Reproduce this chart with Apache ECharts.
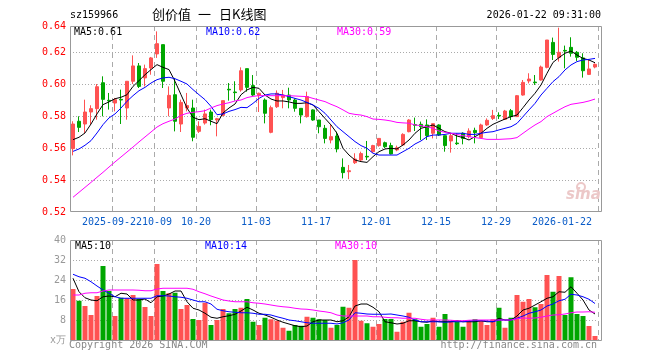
<!DOCTYPE html>
<html><head><meta charset="utf-8">
<script src="https://cdn.jsdelivr.net/npm/echarts@6/dist/echarts.min.js"></script>
<style>html,body{margin:0;padding:0;background:#fff}#c{width:660px;height:360px}</style>
</head><body><div id="c"></div>
<script>
// ---- data ----
const categories = [
'2025-09-11','2025-09-12','2025-09-15','2025-09-16','2025-09-17','2025-09-18','2025-09-19','2025-09-22','2025-09-23','2025-09-24',
'2025-09-25','2025-09-26','2025-09-29','2025-09-30','2025-10-09','2025-10-10','2025-10-13','2025-10-14','2025-10-15','2025-10-16',
'2025-10-17','2025-10-20','2025-10-21','2025-10-22','2025-10-23','2025-10-24','2025-10-27','2025-10-28','2025-10-29','2025-10-30',
'2025-10-31','2025-11-03','2025-11-04','2025-11-05','2025-11-06','2025-11-07','2025-11-10','2025-11-11','2025-11-12','2025-11-13',
'2025-11-14','2025-11-17','2025-11-18','2025-11-19','2025-11-20','2025-11-21','2025-11-24','2025-11-25','2025-11-26','2025-11-27',
'2025-11-28','2025-12-01','2025-12-02','2025-12-03','2025-12-04','2025-12-05','2025-12-08','2025-12-09','2025-12-10','2025-12-11',
'2025-12-12','2025-12-15','2025-12-16','2025-12-17','2025-12-18','2025-12-19','2025-12-22','2025-12-23','2025-12-24','2025-12-25',
'2025-12-26','2025-12-29','2025-12-30','2025-12-31','2026-01-05','2026-01-06','2026-01-07','2026-01-08','2026-01-09','2026-01-12',
'2026-01-13','2026-01-14','2026-01-15','2026-01-16','2026-01-19','2026-01-20','2026-01-21','2026-01-22'];

const tickLabels = {
  '2025-09-22':'2025-09-22','2025-10-09':'10-09','2025-10-20':'10-20','2025-11-03':'11-03',
  '2025-11-17':'11-17','2025-12-01':'12-01','2025-12-15':'12-15','2025-12-29':'12-29','2026-01-22':'2026-01-22'
};

// [open, close, low, high]
const kline = [
[0.5596,0.5750,0.5554,0.5767],[0.5767,0.5729,0.5700,0.5798],[0.5750,0.5825,0.5694,0.5902],[0.5825,0.5846,0.5746,0.5867],
[0.5846,0.5983,0.5777,0.6000],[0.6008,0.5904,0.5798,0.6048],[0.5898,0.5894,0.5840,0.5944],[0.5881,0.5902,0.5829,0.5913],
[0.5904,0.5900,0.5750,0.5965],[0.5850,0.6017,0.5777,0.6017],[0.6017,0.6113,0.6000,0.6179],[0.6113,0.5985,0.5975,0.6131],
[0.6038,0.6096,0.5985,0.6121],[0.6100,0.6163,0.6058,0.6169],[0.6188,0.6252,0.6163,0.6329],[0.6246,0.6017,0.5975,0.6246],
[0.5850,0.5929,0.5798,0.5985],[0.5933,0.5767,0.5704,0.6038],[0.5750,0.5885,0.5700,0.5902],[0.5850,0.5865,0.5829,0.5944],
[0.5850,0.5667,0.5642,0.5902],[0.5704,0.5735,0.5694,0.5767],[0.5756,0.5813,0.5746,0.5840],[0.5825,0.5777,0.5742,0.5840],
[0.5775,0.5783,0.5673,0.5788],[0.5804,0.5896,0.5798,0.5896],[0.5967,0.5963,0.5896,0.6006],[0.5950,0.5946,0.5896,0.6017],
[0.5963,0.6083,0.5952,0.6104],[0.6096,0.5979,0.5952,0.6096],[0.5990,0.5931,0.5925,0.6056],[0.5929,0.5942,0.5825,0.5946],
[0.5900,0.5817,0.5754,0.5910],[0.5698,0.5852,0.5692,0.5865],[0.5858,0.5942,0.5850,0.5960],[0.5915,0.5931,0.5848,0.5963],
[0.5931,0.5900,0.5848,0.5977],[0.5900,0.5848,0.5827,0.5910],[0.5848,0.5806,0.5754,0.5848],[0.5796,0.5921,0.5790,0.5952],
[0.5838,0.5775,0.5770,0.5842],[0.5775,0.5733,0.5692,0.5775],[0.5723,0.5660,0.5629,0.5744],[0.5650,0.5671,0.5629,0.5744],
[0.5675,0.5594,0.5573,0.5702],[0.5479,0.5446,0.5410,0.5535],[0.5452,0.5458,0.5405,0.5494],[0.5508,0.5531,0.5500,0.5567],
[0.5525,0.5565,0.5515,0.5577],[0.5548,0.5544,0.5525,0.5644],[0.5577,0.5615,0.5570,0.5620],[0.5615,0.5660,0.5608,0.5660],
[0.5633,0.5608,0.5600,0.5640],[0.5615,0.5563,0.5560,0.5633],[0.5588,0.5602,0.5580,0.5615],[0.5619,0.5685,0.5615,0.5692],
[0.5702,0.5775,0.5698,0.5780],[0.5746,0.5742,0.5706,0.5790],[0.5748,0.5733,0.5650,0.5765],[0.5744,0.5677,0.5650,0.5779],
[0.5692,0.5752,0.5660,0.5752],[0.5744,0.5681,0.5675,0.5748],[0.5677,0.5615,0.5577,0.5677],[0.5644,0.5677,0.5571,0.5692],
[0.5631,0.5627,0.5619,0.5692],[0.5692,0.5660,0.5623,0.5698],[0.5671,0.5706,0.5660,0.5723],[0.5710,0.5696,0.5629,0.5727],
[0.5665,0.5744,0.5660,0.5752],[0.5744,0.5773,0.5738,0.5785],[0.5785,0.5802,0.5775,0.5838],[0.5804,0.5800,0.5781,0.5823],
[0.5779,0.5831,0.5775,0.5838],[0.5833,0.5796,0.5775,0.5844],[0.5796,0.5927,0.5796,0.5931],[0.5931,0.6010,0.5927,0.6025],
[0.6019,0.6031,0.6004,0.6067],[0.6012,0.6008,0.5994,0.6056],[0.6025,0.6106,0.6021,0.6115],[0.6104,0.6275,0.6098,0.6275],
[0.6260,0.6185,0.6150,0.6290],[0.6165,0.6198,0.6140,0.6352],[0.6210,0.6206,0.6098,0.6240],[0.6229,0.6192,0.6171,0.6292],
[0.6198,0.6167,0.6144,0.6206],[0.6163,0.6083,0.6040,0.6192],[0.6060,0.6094,0.6056,0.6150],[0.6106,0.6123,0.6098,0.6129]];

const ma5 = [0.5652,0.5667,0.5694,0.5750,0.5813,0.5871,0.5888,0.5908,0.5917,0.5933,
0.5985,0.6021,0.6058,0.6090,0.6121,0.6104,0.6090,0.6017,0.5933,0.5850,
0.5792,0.5777,0.5783,0.5767,0.5752,0.5819,0.5850,0.5875,0.5933,0.5963,
0.5979,0.5973,0.5931,0.5906,0.5894,0.5894,0.5888,0.5879,0.5879,0.5883,
0.5869,0.5827,0.5785,0.5744,0.5692,0.5598,0.5556,0.5525,0.5515,0.5510,
0.5546,0.5577,0.5594,0.5598,0.5594,0.5619,0.5650,0.5692,0.5723,0.5733,
0.5744,0.5723,0.5702,0.5692,0.5675,0.5665,0.5650,0.5671,0.5692,0.5723,
0.5748,0.5765,0.5781,0.5796,0.5806,0.5852,0.5900,0.5942,0.5994,0.6067,
0.6135,0.6165,0.6192,0.6206,0.6181,0.6160,0.6150,0.6133];

const ma10 = [0.5579,0.5594,0.5617,0.5646,0.5694,0.5746,0.5788,0.5813,0.5850,0.5892,
0.5927,0.5958,0.5979,0.6006,0.6027,0.6038,0.6042,0.6033,0.6017,0.6000,
0.5965,0.5933,0.5902,0.5860,0.5808,0.5813,0.5829,0.5840,0.5854,0.5852,
0.5879,0.5910,0.5931,0.5938,0.5938,0.5931,0.5921,0.5910,0.5900,0.5885,
0.5869,0.5848,0.5817,0.5775,0.5733,0.5702,0.5671,0.5640,0.5615,0.5598,
0.5567,0.5556,0.5556,0.5556,0.5556,0.5577,0.5598,0.5625,0.5644,0.5671,
0.5681,0.5681,0.5685,0.5692,0.5692,0.5692,0.5685,0.5685,0.5692,0.5698,
0.5702,0.5713,0.5723,0.5733,0.5754,0.5796,0.5838,0.5879,0.5931,0.5973,
0.6015,0.6046,0.6088,0.6119,0.6140,0.6150,0.6154,0.6160];

const ma30 = [0.5292,0.5323,0.5354,0.5385,0.5417,0.5448,0.5481,0.5513,0.5544,0.5575,
0.5606,0.5638,0.5669,0.5700,0.5731,0.5752,0.5767,0.5781,0.5804,0.5817,
0.5823,0.5827,0.5833,0.5850,0.5865,0.5875,0.5883,0.5894,0.5900,0.5915,
0.5923,0.5927,0.5927,0.5927,0.5927,0.5927,0.5927,0.5925,0.5923,0.5921,
0.5910,0.5900,0.5890,0.5873,0.5858,0.5838,0.5817,0.5810,0.5806,0.5796,
0.5781,0.5779,0.5775,0.5769,0.5760,0.5757,0.5755,0.5744,0.5740,0.5733,
0.5723,0.5706,0.5698,0.5692,0.5685,0.5677,0.5671,0.5665,0.5660,0.5654,
0.5654,0.5654,0.5656,0.5658,0.5665,0.5692,0.5719,0.5744,0.5765,0.5796,
0.5817,0.5838,0.5858,0.5873,0.5879,0.5885,0.5894,0.5906];

// volume (x万)
const volume = [20.4,15.7,13.6,10,17.6,29.6,19.6,9.6,16.9,16.7,
18,16.4,13.2,9.6,30.4,19.6,18.7,18.9,12.4,14,
8.4,8,14.9,6,8,12.4,10.7,12.4,12.9,16.4,
7.3,6,8.9,8.3,7.7,4.9,3.7,6,5.7,9.3,
8.9,8.3,8,4.9,6,13.3,12.9,32,7.7,6.7,
5.3,6.4,8.4,8.4,3.3,7.3,10.9,8.3,5.3,6.4,
8.9,5.3,10.4,7.7,7.7,5.3,7.7,8.3,7.7,6,
8.3,12.9,4.9,8.9,18,15.3,16.4,13.1,14.4,26,
19.3,25.6,10,25.1,10.4,9.6,5.6,1.6];

const volMa5 = [24.7,19.3,16.9,16,15.7,17.3,17.6,17.3,18.7,18.4,
16,16,16.4,14.9,17.3,17.6,18.4,19.6,19.6,15.3,
12.7,12,10.7,9.1,8.7,9.3,9.7,10.3,11.6,13.1,
12,10.7,10,9.1,8,7.1,6.4,5.7,5.3,5.6,
7.3,8,8,8,7.3,7.7,9.3,13.6,14.4,14.4,
13.1,11.3,7.3,6.9,6.4,6.7,7.7,7.7,7.3,7.1,
7.7,7.3,7.3,7.3,7.7,7.3,7.3,7.3,7.7,7.3,
7.3,8.7,8,8,9.6,12,12.7,14,15.3,16.7,
17.3,19.3,19.1,21.3,18.7,16,12,10.4];

const volMa10 = [26.3,25.3,24.7,23.3,21.6,20,18.7,17.3,16.7,16.7,
16.7,16.7,16.7,16.7,17.7,17.7,17.6,17.3,17.1,16.7,
16,15.3,15.3,14.4,12.3,11.7,11.3,11.1,10.9,10.9,
10.7,10.3,10.3,10,9.3,8.7,8,7.7,7.3,6.9,
6.7,6.7,6.7,6.7,6.4,6.9,8,10.9,10.7,10.4,
10.3,10.3,10.3,10.4,10,9.6,9.1,8,7.3,7.3,
7.3,7.3,7.1,7.3,7.3,7.3,7.6,7.7,7.7,7.6,
7.3,8,8,8,8.7,9.6,10.7,11.3,12,13.6,
14.4,15.7,16.3,18.3,18,17.3,16.3,14.6];

const volMa30 = [18,18,18.7,18.9,18.9,19.6,20,20,20,20,
20,19.9,19.7,19.7,20.4,20.7,20.7,20.7,20.7,20.7,
20.3,19.3,18.5,17.6,16.8,16,15.6,15.3,15.3,15.3,
14.9,14.7,14.4,14,13.6,13.3,13.1,12.7,12.4,12.3,
12,11.6,11.3,10.9,10,9.6,9.6,9.6,9.6,9.6,
9.3,9.3,9.1,8.9,8.9,8.7,8.7,8.7,8.3,8,
8,8,8,7.9,7.7,7.7,7.9,8,8,8,
8,8,8,8,8.5,8.8,8.7,8.8,9.1,9.6,
10,10.1,10.4,10.9,11.2,11.2,11.3,11.1];

const priceMin = 0.52, priceMax = 0.63625, priceStep = 0.02;
const volMin = 0, volMax = 40, volStep = 8;

// ---- chart ----
const RED = '#ff5252', GREEN = '#00a600';
const MONO = '"DejaVu Sans Mono", "Liberation Mono", monospace';
const lastDate = categories[categories.length - 1];
const labelSet = new Set(categories.map((d, i) => tickLabels[d] ? i : -1).filter(i => i >= 0));
const lineIdx = new Set([...labelSet].filter(i => i !== categories.length - 1));
const isUp = i => kline[i][1] >= kline[i][0];

const vGrid = { show: true, interval: (i) => lineIdx.has(i), lineStyle: { color: '#aaa', type: [5, 4], width: 1 } };

const chart = echarts.init(document.getElementById('c'), null, { renderer: 'canvas' });
chart.setOption({
  animation: false,
  backgroundColor: '#fff',
  grid: [
    { left: 70, top: 26, width: 528, height: 186 },
    { left: 70, top: 240, width: 528, height: 100 }
  ],
  xAxis: [
    { type: 'category', gridIndex: 0, data: categories, boundaryGap: true,
      axisLine: { show: false }, axisTick: { show: false },
      axisLabel: { show: true, interval: (i) => labelSet.has(i), margin: 5,
        color: '#0a5cc8', fontFamily: MONO, fontSize: 10,
        formatter: (v) => {
          const t = tickLabels[v];
          if (v === lastDate) return '{e|' + t + '}';
          if (v === '2025-10-09') return '{n|' + t + '}';
          return '{a|' + t + '}';
        },
        rich: { a: { padding: [0, 6, 0, 0] }, n: {}, e: { padding: [0, 66, 0, 0] } } },
      splitLine: vGrid },
    { type: 'category', gridIndex: 1, data: categories, boundaryGap: true,
      axisLine: { show: false }, axisTick: { show: false }, axisLabel: { show: false },
      splitLine: vGrid }
  ],
  yAxis: [
    { type: 'value', gridIndex: 0, min: priceMin, max: priceMax, interval: priceStep, scale: true,
      axisLine: { show: false }, axisTick: { show: false },
      axisLabel: { color: '#ff0000', fontFamily: MONO, fontSize: 10, margin: 4,
        formatter: (v) => v > 0.63 ? '0.64' : v.toFixed(2) },
      splitLine: { show: true, showMinLine: false, showMaxLine: false, lineStyle: { color: '#aaa', type: [1, 2] } } },
    { type: 'value', gridIndex: 1, min: volMin, max: volMax, interval: volStep,
      axisLine: { show: false }, axisTick: { show: false },
      axisLabel: { color: '#999', fontFamily: MONO, fontSize: 10, margin: 4,
        formatter: (v) => v === 0 ? 'x万' : String(v) },
      splitLine: { show: true, showMinLine: false, showMaxLine: false, lineStyle: { color: '#aaa', type: [1, 2] } } }
  ],
  series: [
    { type: 'candlestick', xAxisIndex: 0, yAxisIndex: 0, data: kline, barWidth: 4,
      itemStyle: { color: RED, color0: GREEN, borderColor: RED, borderColor0: GREEN, borderWidth: 1 } },
    { type: 'line', xAxisIndex: 0, yAxisIndex: 0, data: ma5, showSymbol: false, symbol: 'none',
      lineStyle: { color: '#000', width: 1 } },
    { type: 'line', xAxisIndex: 0, yAxisIndex: 0, data: ma10, showSymbol: false, symbol: 'none',
      lineStyle: { color: '#0000ff', width: 1 } },
    { type: 'line', xAxisIndex: 0, yAxisIndex: 0, data: ma30, showSymbol: false, symbol: 'none',
      lineStyle: { color: '#ff00ff', width: 1 } },
    { type: 'bar', xAxisIndex: 1, yAxisIndex: 1, data: volume, barWidth: 5,
      itemStyle: { color: (p) => isUp(p.dataIndex) ? RED : GREEN } },
    { type: 'line', xAxisIndex: 1, yAxisIndex: 1, data: volMa5, showSymbol: false, symbol: 'none',
      lineStyle: { color: '#000', width: 1 } },
    { type: 'line', xAxisIndex: 1, yAxisIndex: 1, data: volMa10, showSymbol: false, symbol: 'none',
      lineStyle: { color: '#0000ff', width: 1 } },
    { type: 'line', xAxisIndex: 1, yAxisIndex: 1, data: volMa30, showSymbol: false, symbol: 'none',
      lineStyle: { color: '#ff00ff', width: 1 } }
  ],
  graphic: [
    { type: 'rect', z: 50, silent: true, shape: { x: 70.5, y: 26.5, width: 531, height: 185 },
      style: { fill: 'none', stroke: '#999', lineWidth: 1 } },
    { type: 'rect', z: 50, silent: true, shape: { x: 70.5, y: 240.5, width: 531, height: 100 },
      style: { fill: 'none', stroke: '#999', lineWidth: 1 } },
    { type: 'text', left: 70, top: 10, style: { text: 'sz159966', font: '10px ' + MONO, fill: '#000' } },
    { type: 'text', left: 152, top: 8, style: { text: '创价值', font: '13px "Noto Sans CJK SC"', fill: '#000' } },
    { type: 'text', left: 198, top: 8, style: { text: '一', font: '13px "Noto Sans CJK SC"', fill: '#000' } },
    { type: 'text', left: 219, top: 8, style: { text: '日K线图', font: '13px "Noto Sans CJK SC"', fill: '#000' } },
    { type: 'text', right: 59, top: 10, style: { text: '2026-01-22 09:31:00', font: '10px ' + MONO, fill: '#000' } },
    { type: 'text', left: 74, top: 27, z: 60, style: { text: 'MA5:0.61', font: '10px ' + MONO, fill: '#000' } },
    { type: 'text', left: 206, top: 27, z: 60, style: { text: 'MA10:0.62', font: '10px ' + MONO, fill: '#0000ff' } },
    { type: 'text', left: 337, top: 27, z: 60, style: { text: 'MA30:0.59', font: '10px ' + MONO, fill: '#ff00ff' } },
    { type: 'text', left: 75, top: 241, z: 60, style: { text: 'MA5:10', font: '10px ' + MONO, fill: '#000' } },
    { type: 'text', left: 205, top: 241, z: 60, style: { text: 'MA10:14', font: '10px ' + MONO, fill: '#0000ff' } },
    { type: 'text', left: 335, top: 241, z: 60, style: { text: 'MA30:10', font: '10px ' + MONO, fill: '#ff00ff' } },
    { type: 'text', left: 69, top: 340, style: { text: 'Copyright 2026 SINA.COM', font: '10px ' + MONO, fill: '#888' } },
    { type: 'text', right: 63, top: 340, style: { text: 'http://finance.sina.com.cn', font: '10px ' + MONO, fill: '#888' } },
    { type: 'text', left: 566, top: 188, z: 1, style: { text: 'sina', font: 'italic bold 15px "DejaVu Sans"', fill: '#ecc8c8' } },
    { type: 'circle', z: 1, shape: { cx: 581, cy: 187, r: 4 }, style: { fill: 'none', stroke: '#ecc8c8', lineWidth: 2 } }
  ]
});
</script>
</body></html>
